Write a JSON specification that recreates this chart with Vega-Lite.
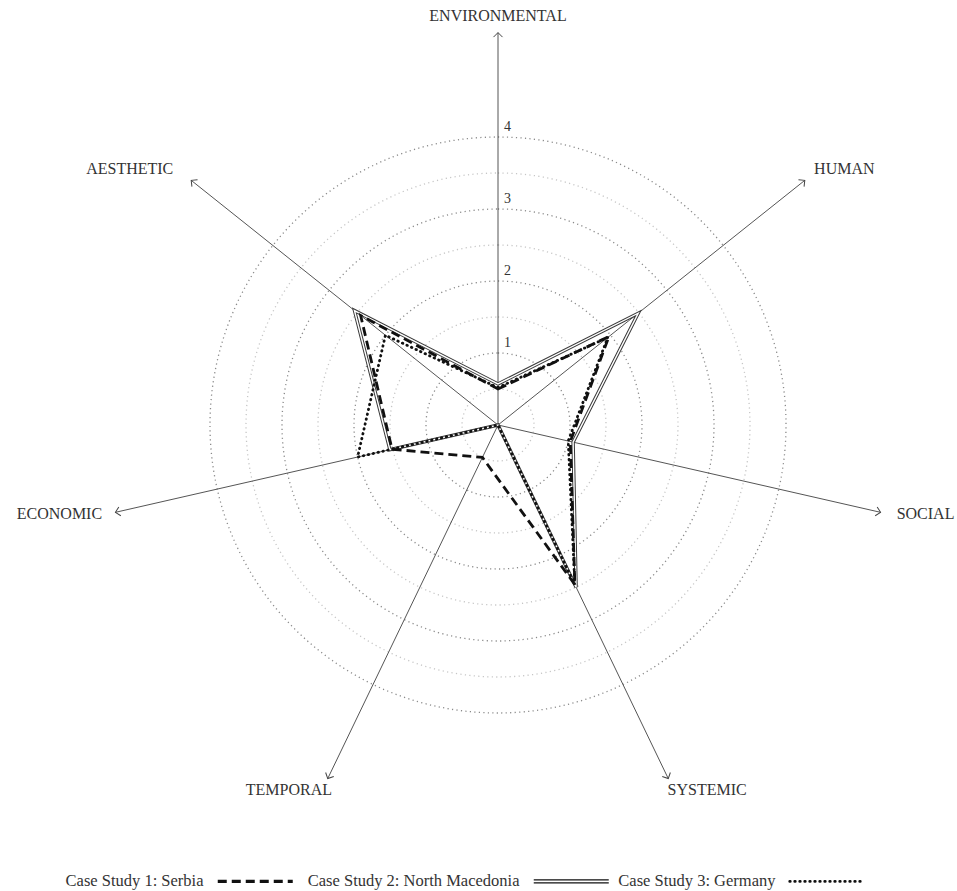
{
  "$schema": "https://vega.github.io/schema/vega-lite/v6.json",
  "width": 957,
  "height": 891,
  "autosize": "none",
  "padding": 0,
  "background": "white",
  "config": {"view": {"stroke": null}, "font": "Liberation Serif"},
  "datasets": {
    "scores": [
      {"series": "Case Study 1: Serbia", "axis": "ENVIRONMENTAL", "value": 0.5},
      {"series": "Case Study 1: Serbia", "axis": "HUMAN", "value": 1.97},
      {"series": "Case Study 1: Serbia", "axis": "SOCIAL", "value": 1.03},
      {"series": "Case Study 1: Serbia", "axis": "SYSTEMIC", "value": 2.46},
      {"series": "Case Study 1: Serbia", "axis": "TEMPORAL", "value": 0.5},
      {"series": "Case Study 1: Serbia", "axis": "ECONOMIC", "value": 1.51},
      {"series": "Case Study 1: Serbia", "axis": "AESTHETIC", "value": 2.44},
      {"series": "Case Study 2: North Macedonia", "axis": "ENVIRONMENTAL", "value": 0.57},
      {"series": "Case Study 2: North Macedonia", "axis": "HUMAN", "value": 2.49},
      {"series": "Case Study 2: North Macedonia", "axis": "SOCIAL", "value": 1.07},
      {"series": "Case Study 2: North Macedonia", "axis": "SYSTEMIC", "value": 2.5},
      {"series": "Case Study 2: North Macedonia", "axis": "TEMPORAL", "value": 0},
      {"series": "Case Study 2: North Macedonia", "axis": "ECONOMIC", "value": 1.54},
      {"series": "Case Study 2: North Macedonia", "axis": "AESTHETIC", "value": 2.55},
      {"series": "Case Study 3: Germany", "axis": "ENVIRONMENTAL", "value": 0.52},
      {"series": "Case Study 3: Germany", "axis": "HUMAN", "value": 1.95},
      {"series": "Case Study 3: Germany", "axis": "SOCIAL", "value": 1.0},
      {"series": "Case Study 3: Germany", "axis": "SYSTEMIC", "value": 2.46},
      {"series": "Case Study 3: Germany", "axis": "TEMPORAL", "value": 0},
      {"series": "Case Study 3: Germany", "axis": "ECONOMIC", "value": 2.0},
      {"series": "Case Study 3: Germany", "axis": "AESTHETIC", "value": 2.0}
    ],
    "axes": [
      {"axis": "ENVIRONMENTAL", "idx": 0},
      {"axis": "HUMAN", "idx": 1},
      {"axis": "SOCIAL", "idx": 2},
      {"axis": "SYSTEMIC", "idx": 3},
      {"axis": "TEMPORAL", "idx": 4},
      {"axis": "ECONOMIC", "idx": 5},
      {"axis": "AESTHETIC", "idx": 6}
    ],
    "rings": [
      {"r": 0.5}, {"r": 1}, {"r": 1.5}, {"r": 2}, {"r": 2.5}, {"r": 3}, {"r": 3.5}, {"r": 4}
    ]
  },
  "layer": [
    {
      "data": {"name": "rings"},
      "mark": {"type": "arc", "theta": 0, "theta2": 6.2832, "filled": false, "strokeWidth": 1.3, "strokeDash": [1.2, 3.3]},
      "encoding": {
        "x": {"datum": 0, "type": "quantitative", "scale": {"domain": [-6.9167, 6.375], "nice": false, "zero": false}, "axis": null},
        "y": {"datum": 0, "type": "quantitative", "scale": {"domain": [-6.4722, 5.9028], "nice": false, "zero": false}, "axis": null},
        "radius": {"field": "r", "type": "quantitative", "stack": null, "scale": {"type": "linear", "domain": [0, 4], "range": [0, 288], "zero": true}},
        "stroke": {"condition": {"test": "datum.r % 1 === 0", "value": "#8a8a8a"}, "value": "#c6c6c6"}
      }
    },
    {
      "data": {"name": "rings"},
      "transform": [{"filter": "datum.r % 1 === 0"}],
      "mark": {"type": "text", "align": "left", "baseline": "alphabetic", "dx": 6, "dy": -6, "fontSize": 14, "font": "Liberation Serif", "color": "#333"},
      "encoding": {
        "x": {"datum": 0, "type": "quantitative"},
        "y": {"field": "r", "type": "quantitative"},
        "text": {"field": "r", "type": "quantitative", "format": "d"}
      }
    },
    {
      "data": {"name": "axes"},
      "transform": [
        {"calculate": "datum.idx * 2 * PI / 7", "as": "ang"},
        {"calculate": "5.45 * sin(datum.ang)", "as": "ex"},
        {"calculate": "5.45 * cos(datum.ang)", "as": "ey"}
      ],
      "mark": {"type": "rule", "color": "#555", "strokeWidth": 1},
      "encoding": {
        "x": {"field": "ex", "type": "quantitative"},
        "y": {"field": "ey", "type": "quantitative"},
        "x2": {"datum": 0},
        "y2": {"datum": 0}
      }
    },
    {
      "data": {"name": "axes"},
      "transform": [
        {"calculate": "datum.idx * 2 * PI / 7", "as": "ang"},
        {"calculate": "5.45 * sin(datum.ang)", "as": "ex"},
        {"calculate": "5.45 * cos(datum.ang)", "as": "ey"},
        {"calculate": "datum.ang * 180 / PI", "as": "deg"}
      ],
      "mark": {"type": "point", "shape": "M-1,1L0,0L1,1", "size": 81, "filled": false, "color": "#444", "strokeWidth": 1, "opacity": 1},
      "encoding": {
        "x": {"field": "ex", "type": "quantitative"},
        "y": {"field": "ey", "type": "quantitative"},
        "angle": {"field": "deg", "type": "quantitative", "scale": null}
      }
    },
    {
      "data": {"name": "axes"},
      "transform": [
        {"calculate": "datum.idx * 2 * PI / 7", "as": "ang"},
        {"calculate": "5.45 * sin(datum.ang) + clamp(1.6 * sin(datum.ang), -1, 1) * (length(datum.axis) * 5.5 + 12) / 72", "as": "lx"},
        {"calculate": "5.45 * cos(datum.ang) + (cos(datum.ang) * 15 + 2) / 72", "as": "ly"}
      ],
      "mark": {"type": "text", "align": "center", "baseline": "middle", "fontSize": 16, "font": "Liberation Serif", "color": "#333"},
      "encoding": {
        "x": {"field": "lx", "type": "quantitative"},
        "y": {"field": "ly", "type": "quantitative"},
        "text": {"field": "axis", "type": "nominal"}
      }
    },
    {
      "data": {"name": "scores"},
      "transform": [
        {"filter": "datum.series === 'Case Study 2: North Macedonia'"},
        {"lookup": "axis", "from": {"data": {"name": "axes"}, "key": "axis", "fields": ["idx"]}},
        {"calculate": "datum.idx * 2 * PI / 7", "as": "ang"},
        {"calculate": "datum.value * sin(datum.ang)", "as": "x"},
        {"calculate": "datum.value * cos(datum.ang)", "as": "y"}
      ],
      "mark": {"type": "line", "interpolate": "linear-closed", "color": "#3a3a3a", "strokeWidth": 3.4},
      "encoding": {
        "x": {"field": "x", "type": "quantitative"},
        "y": {"field": "y", "type": "quantitative"},
        "order": {"field": "idx", "type": "quantitative"}
      }
    },
    {
      "data": {"name": "scores"},
      "transform": [
        {"filter": "datum.series === 'Case Study 2: North Macedonia'"},
        {"lookup": "axis", "from": {"data": {"name": "axes"}, "key": "axis", "fields": ["idx"]}},
        {"calculate": "datum.idx * 2 * PI / 7", "as": "ang"},
        {"calculate": "datum.value * sin(datum.ang)", "as": "x"},
        {"calculate": "datum.value * cos(datum.ang)", "as": "y"}
      ],
      "mark": {"type": "line", "interpolate": "linear-closed", "color": "white", "strokeWidth": 1.4},
      "encoding": {
        "x": {"field": "x", "type": "quantitative"},
        "y": {"field": "y", "type": "quantitative"},
        "order": {"field": "idx", "type": "quantitative"}
      }
    },
    {
      "data": {"name": "scores"},
      "transform": [
        {"filter": "datum.series === 'Case Study 1: Serbia'"},
        {"lookup": "axis", "from": {"data": {"name": "axes"}, "key": "axis", "fields": ["idx"]}},
        {"calculate": "datum.idx * 2 * PI / 7", "as": "ang"},
        {"calculate": "datum.value * sin(datum.ang)", "as": "x"},
        {"calculate": "datum.value * cos(datum.ang)", "as": "y"}
      ],
      "mark": {"type": "line", "interpolate": "linear-closed", "color": "#111", "strokeWidth": 2.8, "strokeCap": "butt"},
      "encoding": {
        "x": {"field": "x", "type": "quantitative"},
        "y": {"field": "y", "type": "quantitative"},
        "order": {"field": "idx", "type": "quantitative"},
        "strokeDash": {
          "field": "series",
          "type": "nominal",
          "scale": {
            "domain": ["Case Study 1: Serbia", "Case Study 2: North Macedonia", "Case Study 3: Germany"],
            "range": [[9, 5], [1, 0], [0.5, 4.5]]
          },
          "legend": {
            "orient": "none",
            "legendX": 247,
            "legendY": 873,
            "direction": "horizontal",
            "title": null,
            "symbolType": "stroke",
            "symbolSize": 5625,
            "symbolStrokeWidth": 2.8,
            "symbolStrokeColor": "#111",
            "labelFont": "Liberation Serif",
            "labelFontSize": 16.5,
            "labelColor": "#333",
            "labelAlign": "right",
            "labelOffset": -60,
            "labelLimit": 400,
            "columnPadding": 7,
            "encode": {
              "symbols": {
                "update": {
                  "shape": {"signal": "datum.value === 'Case Study 2: North Macedonia' ? 'M-1,-0.04L1,-0.04M-1,0.04L1,0.04' : 'stroke'"},
                  "strokeWidth": {"signal": "datum.value === 'Case Study 2: North Macedonia' ? 1.1 : (datum.value === 'Case Study 1: Serbia' ? 3.2 : 2.8)"},
                  "strokeDash": {"signal": "datum.value === 'Case Study 1: Serbia' ? [14, 6.5] : (datum.value === 'Case Study 3: Germany' ? [0.5, 8] : [1, 0])"},
                  "strokeCap": {"signal": "datum.value === 'Case Study 3: Germany' ? 'round' : 'butt'"}
                }
              }
            }
          }
        }
      }
    },
    {
      "data": {"name": "scores"},
      "transform": [
        {"filter": "datum.series === 'Case Study 3: Germany'"},
        {"lookup": "axis", "from": {"data": {"name": "axes"}, "key": "axis", "fields": ["idx"]}},
        {"calculate": "datum.idx * 2 * PI / 7", "as": "ang"},
        {"calculate": "datum.value * sin(datum.ang)", "as": "x"},
        {"calculate": "datum.value * cos(datum.ang)", "as": "y"}
      ],
      "mark": {"type": "line", "interpolate": "linear-closed", "color": "#111", "strokeWidth": 2.8, "strokeCap": "round"},
      "encoding": {
        "x": {"field": "x", "type": "quantitative"},
        "y": {"field": "y", "type": "quantitative"},
        "order": {"field": "idx", "type": "quantitative"},
        "strokeDash": {"field": "series", "type": "nominal"}
      }
    }
  ]
}
